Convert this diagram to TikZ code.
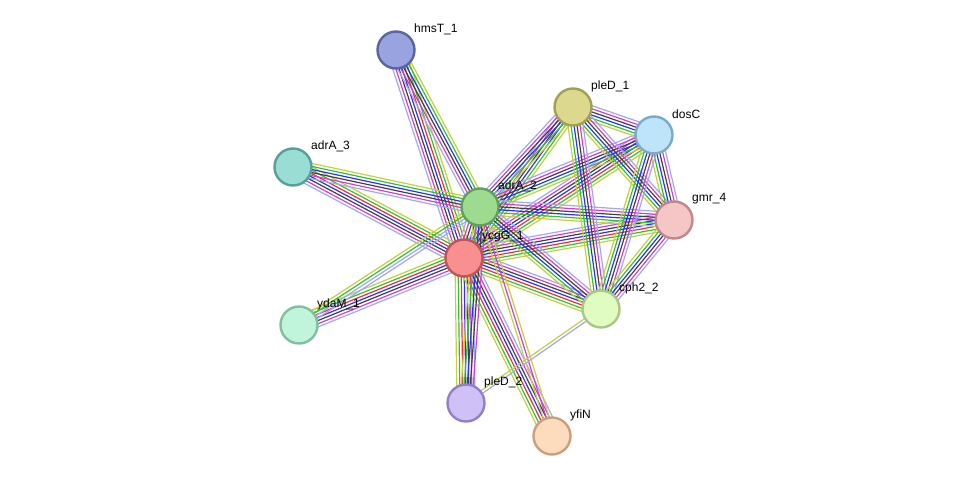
\documentclass[tikz,border=0pt]{standalone}
\usepackage{fontspec}
\setmainfont{Liberation Sans}
\usetikzlibrary{calc}
\definecolor{cT}{HTML}{C4D03C}\definecolor{cG}{HTML}{33C033}\definecolor{cR}{HTML}{F03030}
\definecolor{cB}{HTML}{3030F0}\definecolor{cK}{HTML}{404040}\definecolor{cM}{HTML}{D040D0}
\definecolor{cL}{HTML}{A0A8F8}
\newcommand\medge[3]{\foreach \c/\k in #3{\draw[line width=1.2pt,\c] ($(#1)!\k*3pt!90:(#2)$) -- ($(#2)!\k*3pt!-90:(#1)$);}}
\newcommand\fullset{cT/-3,cG/-2,cR/-1,cB/0,cK/1,cM/2,cL/3}
\newcommand\midset{cT/-2.5,cG/-1.5,cB/-0.5,cK/0.5,cM/1.5,cL/2.5}
\newcommand\smset{cT/-2,cG/-1,cB/0,cK/1,cM/2}
\begin{document}
\begin{tikzpicture}[x=1pt,y=-1pt,
  prot/.style={circle,minimum size=37pt,inner sep=0pt,line width=2.4pt},
  lab/.style={anchor=west,font=\fontsize{12}{12}\selectfont,inner sep=1pt}]
\useasboundingbox (0,0) rectangle (976,482);
\coordinate (hmsT) at (396,50);
\coordinate (pleDa) at (573,107);
\coordinate (dosC) at (654,135);
\coordinate (adrAc) at (293,167);
\coordinate (adrAb) at (480,207);
\coordinate (gmr) at (674,220);
\coordinate (ycgG) at (464,258);
\coordinate (ydaM) at (299,325);
\coordinate (cph) at (601,309);
\coordinate (pleDb) at (466,403);
\coordinate (yfiN) at (552,436);
% edges
\medge{ycgG}{hmsT}{\fullset}
\medge{adrAb}{hmsT}{\midset}
\medge{ycgG}{adrAc}{\fullset}
\medge{adrAb}{adrAc}{\midset}
\medge{ycgG}{ydaM}{\fullset}
\medge{adrAb}{ydaM}{{cT/-1.5,cG/-0.5,cL/0.5,cL/1.5}}
\medge{ycgG}{adrAb}{\fullset}
\medge{ycgG}{pleDa}{\midset}
\medge{ycgG}{dosC}{\fullset}
\medge{ycgG}{gmr}{\fullset}
\medge{ycgG}{cph}{\fullset}
\medge{ycgG}{pleDb}{\fullset}
\medge{ycgG}{yfiN}{\fullset}
\medge{adrAb}{pleDa}{\midset}
\medge{adrAb}{dosC}{\midset}
\medge{adrAb}{gmr}{\midset}
\medge{adrAb}{cph}{\midset}
\medge{adrAb}{pleDb}{\smset}
\medge{adrAb}{yfiN}{{cT/-1,cM/0,cT/1}}
\medge{pleDa}{dosC}{\midset}
\medge{pleDa}{gmr}{\midset}
\medge{pleDa}{cph}{\midset}
\medge{dosC}{gmr}{\midset}
\medge{dosC}{cph}{\midset}
\medge{gmr}{cph}{\midset}
\medge{cph}{pleDb}{{cT/-0.5,cL/0.5}}
% nodes
\foreach \n/\f/\d/\t in {hmsT/99A3E0/5A64A0/hmsT\_1, pleDa/DCD98C/A0A055/pleD\_1, dosC/BDE4F8/7AAAC8/dosC,
  adrAc/99DDD5/55A098/adrA\_3, adrAb/9DDC90/60A058/adrA\_2, gmr/F5C6C6/C08888/gmr\_4,
  ycgG/F89090/C05555/ycgG\_1, ydaM/C0F5DC/80C0A0/ydaM\_1, cph/E0FCC0/A8C888/cph2\_2,
  pleDb/D0C0F8/9080C8/pleD\_2, yfiN/FCDCBC/C8A080/yfiN}{
  \definecolor{ff}{HTML}{\f}\definecolor{dd}{HTML}{\d}
  \node[prot,fill=ff,draw=dd] (\n-n) at (\n) {};
  \node[lab] (\n-l) at ($(\n)+(17,-21)$) {\t};
}
\end{tikzpicture}
\end{document}
